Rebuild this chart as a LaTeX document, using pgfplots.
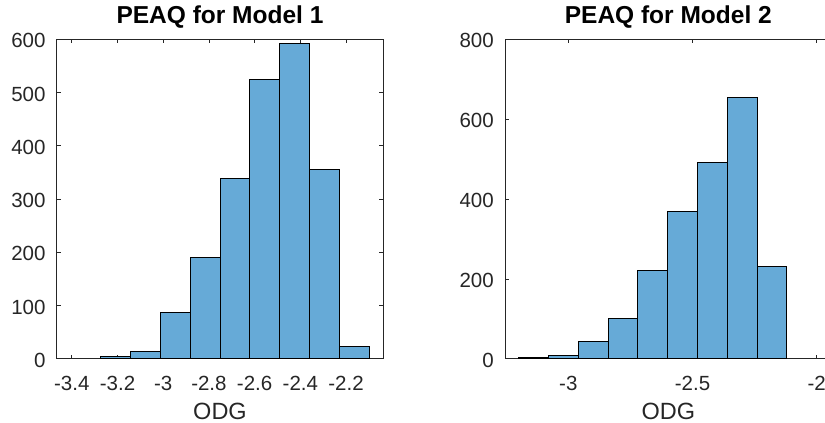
\documentclass[border=0pt]{standalone}
\usepackage{pgfplots}
\pgfplotsset{compat=1.18}
\usepackage{fontspec}
\setmainfont{Liberation Sans}
\definecolor{barfill}{RGB}{102,170,215}
\definecolor{axgray}{RGB}{38,38,38}
\pgfplotsset{
  histo/.style={
    scale only axis, height=319.4pt,
    axis line style={axgray, line width=0.7pt},
    tick style={axgray, line width=0.6pt},
    major tick length=4pt,
    tick align=inside, tick pos=both,
    ymin=0,
    /pgf/number format/assume math mode=true,
    tick label style={font=\fontsize{20.5}{20.5}\selectfont, text=axgray},
    xticklabel style={anchor=base, yshift=-31.3pt, inner sep=0pt},
    yticklabel style={anchor=east, xshift=-11pt, yshift=-1.5pt, inner sep=0pt},
    title style={at={(0.5,1)}, anchor=base, yshift=10pt,
      font=\bfseries\fontsize{24.5}{24.5}\selectfont},
    xlabel style={at={(0.5,0)}, anchor=base, yshift=-60.3pt,
      font=\fontsize{23.5}{23.5}\selectfont, text=axgray},
  },
  bars/.style={ybar interval, fill=barfill, draw=black, line width=0.9pt},
}
\begin{document}
\begin{tikzpicture}
\begin{axis}[histo,
  at={(56.7pt,-358.7pt)}, anchor=south west, width=326.6pt,
  xmin=-3.466, xmax=-2.037, ymax=600,
  xtick={-3.4,-3.2,-3,-2.8,-2.6,-2.4,-2.2},
  xticklabels={-3.4,-3.2,-3,-2.8,-2.6,-2.4,-2.2},
  ytick={0,100,200,300,400,500,600},
  title={PEAQ for Model 1}, xlabel={ODG}]
\addplot[bars] coordinates {
  (-3.2730,4) (-3.1425,13) (-3.0120,87) (-2.8815,190) (-2.7510,338)
  (-2.6205,524) (-2.4900,593) (-2.3595,356) (-2.2290,23) (-2.0985,0)
};
\end{axis}
\begin{axis}[histo,
  at={(505pt,-358.7pt)}, anchor=south west, width=326.6pt,
  xmin=-3.255, xmax=-1.94, ymax=800,
  xtick={-3,-2.5,-2},
  xticklabels={-3,-2.5,-2},
  ytick={0,200,400,600,800},
  title={PEAQ for Model 2}, xlabel={ODG}]
\addplot[bars] coordinates {
  (-3.20,2) (-3.08,9) (-2.96,43) (-2.84,100) (-2.72,220)
  (-2.60,368) (-2.48,491) (-2.36,655) (-2.24,231) (-2.12,0)
};
\end{axis}
\pgfresetboundingbox
\path[use as bounding box] (0,0) rectangle (825pt,-423pt);
\end{tikzpicture}
\end{document}
